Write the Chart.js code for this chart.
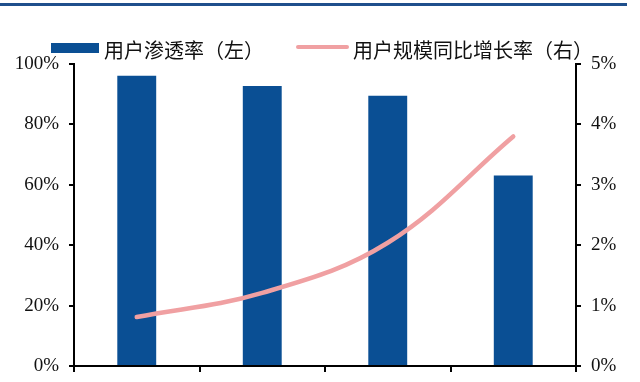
<!DOCTYPE html>
<html><head><meta charset="utf-8">
<script src="https://cdn.jsdelivr.net/npm/chart.js@4/dist/chart.umd.min.js"></script>
<style>html,body{margin:0;padding:0;background:#fff;}#c{display:block;}</style>
</head><body>
<canvas id="c" width="640" height="382"></canvas>
<script>
const categories = ['类别1', '类别2', '类别3', '类别4'];
const penetration = [96.1, 92.7, 89.5, 63.1];      // 用户渗透率（左）, %
const userGrowth = [0.81, 1.21, 2.04, 3.80];        // 用户规模同比增长率（右）, %
const leftTicks = [0, 20, 40, 60, 80, 100];
const rightTicks = [0, 1, 2, 3, 4, 5];
const seriesNames = ['用户渗透率（左）', '用户规模同比增长率（右）'];

const BAR = '#0a4f94';
const LINE = '#f0a0a2';
const tickFont = { family: '"Liberation Serif", "Times New Roman", serif', size: 19 };

const decor = {
  id: 'decor',
  beforeDraw(chart) {
    const ctx = chart.ctx;
    ctx.save();
    ctx.fillStyle = '#1f4f8c';
    ctx.fillRect(0, 3, 627, 3);
    ctx.restore();
  },
  afterDraw(chart) {
    const ctx = chart.ctx;
    ctx.save();
    ctx.fillStyle = BAR;
    ctx.fillRect(51, 43, 48, 10);
    ctx.strokeStyle = LINE;
    ctx.lineWidth = 4;
    ctx.lineCap = 'round';
    ctx.beginPath(); ctx.moveTo(298, 47); ctx.lineTo(347, 47); ctx.stroke();
    ctx.fillStyle = '#111';
    ctx.font = '20px "Noto Sans CJK SC", "Noto Sans", sans-serif';
    ctx.textBaseline = 'middle';
    ctx.fillText(seriesNames[0], 104, 50);
    ctx.fillText(seriesNames[1], 353, 50);
    ctx.restore();
  }
};

function noPad(s) { s.paddingTop = 0; s.paddingBottom = 0; }

new Chart(document.getElementById('c'), {
  data: {
    labels: categories,
    datasets: [
      { type: 'line', label: seriesNames[1], data: userGrowth, yAxisID: 'y1',
        borderColor: LINE, backgroundColor: LINE, borderWidth: 4.5, pointRadius: 0,
        tension: 0.38, borderCapStyle: 'round', order: 0 },
      { type: 'bar', label: seriesNames[0], data: penetration, yAxisID: 'y',
        backgroundColor: BAR, barPercentage: 0.31, categoryPercentage: 1, order: 1 }
    ]
  },
  options: {
    responsive: false, animation: false,
    layout: { padding: { top: 64, left: 0, right: 0, bottom: 0 } },
    plugins: { legend: { display: false }, tooltip: { enabled: false } },
    scales: {
      x: {
        offset: true,
        grid: { offset: true, drawOnChartArea: false, drawTicks: true, tickLength: 6, color: '#000', lineWidth: 2 },
        border: { display: true, color: '#000', width: 2 },
        ticks: { display: false },
        afterFit(s) { s.height = 16; s.paddingLeft = 0; s.paddingRight = 0; }
      },
      y: {
        position: 'left', min: 0, max: 100,
        afterBuildTicks(s) { s.ticks = leftTicks.map(v => ({ value: v })); },
        ticks: { font: tickFont, color: '#111', padding: 10, callback: v => v + '%' },
        grid: { drawOnChartArea: false, drawTicks: true, tickLength: 5, color: '#000', lineWidth: 2 },
        border: { display: true, color: '#000', width: 2 },
        afterFit(s) { s.width = 74; noPad(s); }
      },
      y1: {
        position: 'right', min: 0, max: 5,
        afterBuildTicks(s) { s.ticks = rightTicks.map(v => ({ value: v })); },
        ticks: { font: tickFont, color: '#111', padding: 10, callback: v => v + '%' },
        grid: { drawOnChartArea: false, drawTicks: true, tickLength: 5, color: '#000', lineWidth: 2 },
        border: { display: true, color: '#000', width: 2 },
        afterFit(s) { s.width = 64; noPad(s); }
      }
    }
  },
  plugins: [decor]
});
</script>
</body></html>
